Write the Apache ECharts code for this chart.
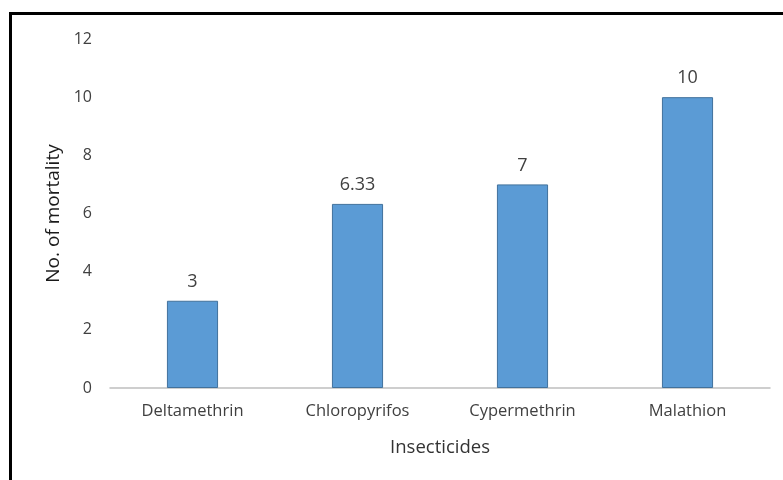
<!DOCTYPE html>
<html>
<head>
<meta charset="utf-8">
<script src="https://cdn.jsdelivr.net/npm/echarts@6/dist/echarts.min.js"></script>
<style>html,body{margin:0;padding:0;background:#fff;}#c{width:783px;height:480px;}</style>
</head>
<body>
<div id="c"></div>
<script>
const categories = ['Deltamethrin', 'Chloropyrifos', 'Cypermethrin', 'Malathion'];
const mortality = [3, 6.33, 7, 10];
const valueLabels = ['3', '6.33', '7', '10'];
const xTitle = 'Insecticides';
const yTitle = 'No. of mortality';

const chart = echarts.init(document.getElementById('c'), null, {renderer: 'canvas'});
const font = '"Open Sans", sans-serif';
chart.setOption({
  animation: false,
  backgroundColor: '#ffffff',
  graphic: [{
    type: 'rect', silent: true, z: 100,
    shape: {x: 10.5, y: 13.5, width: 900, height: 600},
    style: {fill: 'none', stroke: '#000', lineWidth: 3}
  }],
  grid: {left: 110, right: 13, top: 39, bottom: 92, containLabel: false},
  xAxis: {
    type: 'category',
    data: categories,
    name: xTitle,
    nameLocation: 'middle',
    nameGap: 50,
    nameTextStyle: {fontFamily: font, fontSize: 18.5, color: '#333'},
    axisLine: {lineStyle: {color: '#bfbfbf', width: 1.5}},
    axisTick: {show: false},
    axisLabel: {fontFamily: font, fontSize: 16.5, color: '#404040', margin: 15}
  },
  yAxis: {
    type: 'value',
    min: 0, max: 12, interval: 2,
    name: yTitle,
    nameLocation: 'middle',
    nameGap: 47,
    nameTextStyle: {fontFamily: font, fontSize: 19, color: '#1a1a1a'},
    axisLine: {show: false},
    axisTick: {show: false},
    splitLine: {show: false},
    axisLabel: {fontFamily: font, fontSize: 16, color: '#404040', margin: 18}
  },
  series: [{
    type: 'bar',
    data: mortality,
    barWidth: '31%',
    itemStyle: {color: '#5b9bd5', borderColor: '#41719c', borderWidth: 1},
    label: {
      show: true, position: 'top', distance: 10,
      fontFamily: font, fontSize: 18, color: '#404040',
      formatter: p => valueLabels[p.dataIndex]
    }
  }]
});
</script>
</body>
</html>
